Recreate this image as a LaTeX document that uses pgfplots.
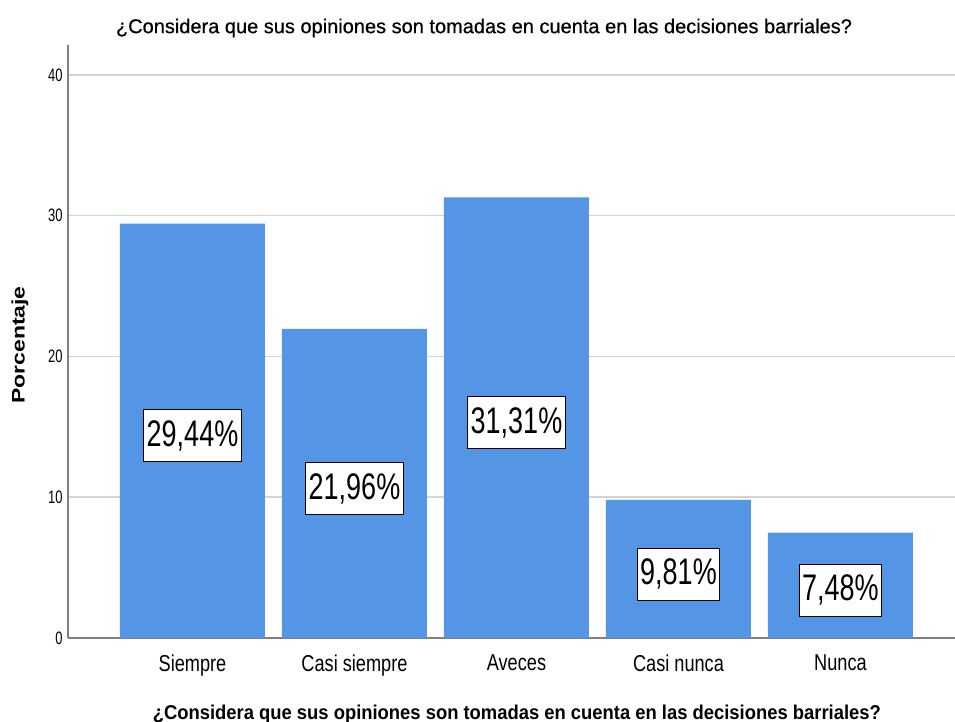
\documentclass[border=0pt]{standalone}
\usepackage{pgfplots}
\pgfplotsset{compat=1.18}
\usepackage{fontspec}
\setmainfont{Liberation Sans}
\newfontfamily\fLab[FakeStretch=0.73]{Liberation Sans}
\newfontfamily\fTick[FakeStretch=0.79]{Liberation Sans}
\newfontfamily\fY[FakeStretch=0.72]{Liberation Sans}
\newfontfamily\fTitle[FakeBold=0.6]{Liberation Sans}
\newfontfamily\fXt[FakeStretch=0.92]{Liberation Sans}
\definecolor{barblue}{HTML}{5595E5}
\definecolor{axgray}{HTML}{808080}
\definecolor{gridgray}{HTML}{D4D4D4}
\begin{document}
\begin{tikzpicture}
\begin{axis}[
  scale only axis,
  width=887bp, height=593bp,
  xmin=-0.7685, xmax=4.707,
  ymin=0, ymax=42.13,
  axis x line*=bottom, axis y line*=left,
  axis line style={-, draw=axgray, line width=1.5bp},
  xtick={0,1,2,3,4},
  xticklabels={Siempre, Casi siempre, Aveces, Casi nunca, Nunca},
  ytick={0,10,20,30,40},
  major tick length=0pt,
  ymajorgrids,
  major grid style={draw=gridgray, line width=1.5bp},
  /pgf/number format/assume math mode=true,
  xticklabel style={font=\fTick\fontsize{23bp}{26bp}\selectfont, yshift=-13bp},
  yticklabel style={font=\fY\fontsize{18bp}{20bp}\selectfont, xshift=-2bp},
  clip=false,
]
\addplot[ybar, bar width=0.895, fill=barblue, draw=none] table[x=x, y=y] {
x y
0 29.44
1 21.96
2 31.31
3 9.81
4 7.48
};
\addplot[draw=none, mark=none, forget plot,
  y filter/.expression={y/2},
  point meta=explicit,
  nodes near coords={\pgfmathprintnumber[fixed,zerofill,precision=2,use comma]{\pgfplotspointmeta}\%},
  every node near coord/.append style={anchor=center, yshift=-5bp, fill=white, draw=black, line width=0.8bp,
    inner xsep=3bp, minimum height=52bp, font=\fLab\fontsize{37bp}{40bp}\selectfont},
] table[x=x, y=y, meta=y] {
x y
0 29.44
1 21.96
2 31.31
3 9.81
4 7.48
};
\node[font=\fTitle\fontsize{20bp}{24bp}\selectfont, anchor=center] at (rel axis cs:0.469,1) [yshift=17bp] {¿Considera que sus opiniones son tomadas en cuenta en las decisiones barriales?};
\node[font=\fXt\bfseries\fontsize{20bp}{24bp}\selectfont, anchor=base] at ([yshift=-81bp]rel axis cs:0.506,0) {¿Considera que sus opiniones son tomadas en cuenta en las decisiones barriales?};
\node[font=\bfseries\fontsize{23bp}{26bp}\selectfont, rotate=90, anchor=center] at ([xshift=-48bp]rel axis cs:0,0.494) {\scalebox{1}[0.79]{Porcentaje}};
\end{axis}
\pgfresetboundingbox
\path[use as bounding box] (-68bp,-84bp) rectangle (887bp,638bp);
\end{tikzpicture}
\end{document}
